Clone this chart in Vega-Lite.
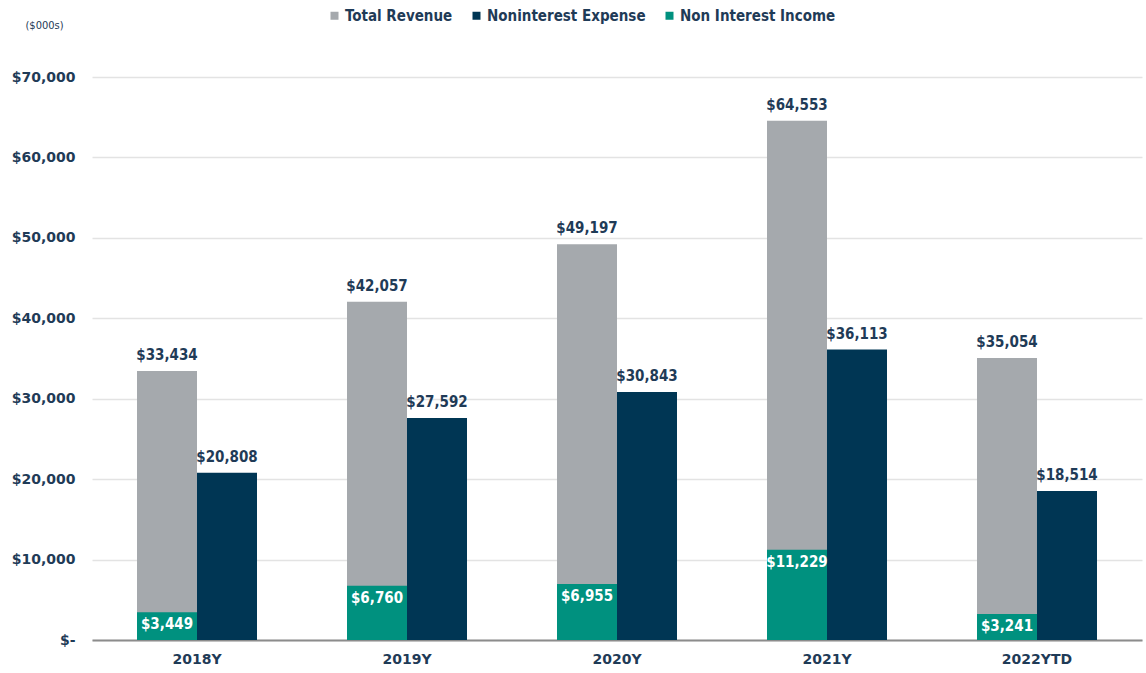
{
  "$schema": "https://vega.github.io/schema/vega-lite/v6.json",
  "autosize": {"type": "none"},
  "width": 1050,
  "height": 563,
  "padding": {"left": 92, "top": 77, "right": 4, "bottom": 33},
  "background": "white",
  "config": {
    "view": {"stroke": null},
    "font": "DejaVu Sans",
    "text": {"font": "DejaVu Sans"}
  },
  "data": {
    "values": [
      {"year": "2018Y", "series": "Total Revenue", "grp": "A", "value": 33434},
      {"year": "2019Y", "series": "Total Revenue", "grp": "A", "value": 42057},
      {"year": "2020Y", "series": "Total Revenue", "grp": "A", "value": 49197},
      {"year": "2021Y", "series": "Total Revenue", "grp": "A", "value": 64553},
      {"year": "2022YTD", "series": "Total Revenue", "grp": "A", "value": 35054},
      {"year": "2018Y", "series": "Noninterest Expense", "grp": "B", "value": 20808},
      {"year": "2019Y", "series": "Noninterest Expense", "grp": "B", "value": 27592},
      {"year": "2020Y", "series": "Noninterest Expense", "grp": "B", "value": 30843},
      {"year": "2021Y", "series": "Noninterest Expense", "grp": "B", "value": 36113},
      {"year": "2022YTD", "series": "Noninterest Expense", "grp": "B", "value": 18514},
      {"year": "2018Y", "series": "Non Interest Income", "grp": "A", "value": 3449},
      {"year": "2019Y", "series": "Non Interest Income", "grp": "A", "value": 6760},
      {"year": "2020Y", "series": "Non Interest Income", "grp": "A", "value": 6955},
      {"year": "2021Y", "series": "Non Interest Income", "grp": "A", "value": 11229},
      {"year": "2022YTD", "series": "Non Interest Income", "grp": "A", "value": 3241}
    ]
  },
  "encoding": {
    "x": {
      "field": "year",
      "type": "nominal",
      "sort": ["2018Y", "2019Y", "2020Y", "2021Y", "2022YTD"],
      "scale": {"paddingInner": 0.428571, "paddingOuter": 0.214286},
      "axis": {
        "title": null,
        "labelAngle": 0,
        "ticks": false,
        "domainColor": "#8C8C8C",
        "domainWidth": 2,
        "labelFont": "DejaVu Sans",
        "labelFontWeight": "bold",
        "labelFontSize": 14,
        "labelColor": "#1F3B57",
        "labelPadding": 12
      }
    },
    "xOffset": {
      "field": "grp",
      "type": "nominal",
      "scale": {"domain": ["A", "B"], "paddingInner": 0, "paddingOuter": 0}
    },
    "y": {
      "field": "value",
      "type": "quantitative",
      "stack": null,
      "scale": {"domain": [0, 70000], "nice": false},
      "axis": {
        "values": [0, 10000, 20000, 30000, 40000, 50000, 60000, 70000],
        "labelExpr": "datum.value == 0 ? '$-' : '$' + format(datum.value, ',')",
        "title": "($000s)",
        "titleAngle": 0,
        "titleAlign": "left",
        "titleBaseline": "middle",
        "titleX": -67,
        "titleY": -52,
        "titleFont": "DejaVu Sans Condensed",
        "titleFontWeight": "normal",
        "titleFontSize": 11,
        "titleColor": "#1F3B57",
        "domain": false,
        "ticks": false,
        "grid": true,
        "gridColor": "#E3E3E3",
        "gridWidth": 1.5,
        "labelFont": "DejaVu Sans",
        "labelFontWeight": "bold",
        "labelFontSize": 14,
        "labelColor": "#1F3B57",
        "labelPadding": 17
      }
    }
  },
  "layer": [
    {
      "transform": [{"filter": "datum.series != 'Non Interest Income'"}],
      "mark": {"type": "bar"},
      "encoding": {
        "color": {
          "field": "series",
          "type": "nominal",
          "scale": {
            "domain": ["Total Revenue", "Noninterest Expense", "Non Interest Income"],
            "range": ["#A5A9AD", "#003654", "#00917F"]
          },
          "legend": {
            "title": null,
            "orient": "none",
            "legendX": 235,
            "legendY": -69,
            "direction": "horizontal",
            "symbolType": "square",
            "symbolSize": 64,
            "symbolStrokeWidth": 0,
            "labelFont": "DejaVu Sans Condensed",
            "labelFontWeight": "bold",
            "labelFontSize": 15,
            "labelColor": "#1F3B57",
            "labelOffset": 3,
            "columnPadding": 16
          }
        }
      }
    },
    {
      "transform": [{"filter": "datum.series == 'Non Interest Income'"}],
      "mark": {"type": "bar"},
      "encoding": {
        "color": {"field": "series", "type": "nominal"}
      }
    },
    {
      "transform": [{"filter": "datum.series != 'Non Interest Income'"}],
      "mark": {"type": "text", "baseline": "bottom", "dy": -8, "fontWeight": "bold", "fontSize": 15, "color": "#1F3B57", "font": "DejaVu Sans Condensed"},
      "encoding": {
        "text": {"field": "value", "type": "quantitative", "format": "$,.0f"}
      }
    },
    {
      "transform": [{"filter": "datum.series == 'Non Interest Income'"}],
      "mark": {"type": "text", "baseline": "top", "dy": 5, "fontWeight": "bold", "fontSize": 15, "color": "white", "font": "DejaVu Sans Condensed"},
      "encoding": {
        "text": {"field": "value", "type": "quantitative", "format": "$,.0f"}
      }
    }
  ]
}
